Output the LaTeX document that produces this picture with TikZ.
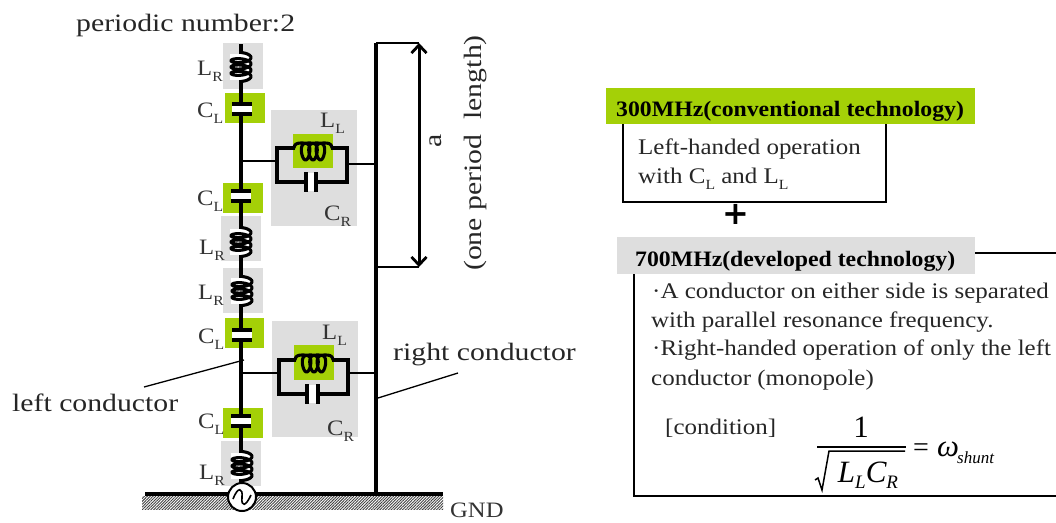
\documentclass[tikz,border=0pt]{standalone}
\usepackage{fontspec}
\setmainfont[FakeStretch=1.12]{Liberation Serif}
\newfontfamily\frmfont{Liberation Serif}
\newfontfamily\widefont[FakeStretch=1.19]{Liberation Serif}
\newfontfamily\headfont[FakeStretch=1.08]{Liberation Serif}
\newfontfamily\plusfont{DejaVu Sans}
\usetikzlibrary{patterns.meta,arrows.meta}
\definecolor{limeg}{HTML}{A4D007}
\definecolor{boxgray}{HTML}{DEDEDE}
\newcommand\sz[1]{\fontsize{#1}{#1}\selectfont}
\newcommand\lab[2]{#1\raisebox{-0.3em}{\sz{14}#2}}
\newcommand\vcoil[2]{\begin{scope}[shift={(#1,#2)}]\draw[coil] plot[domain=0:1260,samples=106,smooth] ({10*sin(\x)},{-11+\x/1260*22-3.5*cos(\x)});\end{scope}}
\newcommand\hcoil[2]{\begin{scope}[shift={(#1,#2)}]\draw[coil] plot[domain=0:1260,samples=106,smooth] ({-13+\x/1260*26-6*cos(\x)},{-8.5*sin(\x)+3.5*sin(\x)*sin(\x)});\end{scope}}
\newcommand\vcap[3]{\fill[white] (#1-10,#2) rectangle (#1+10,#3);\draw[plate] (#1-10,#2)--(#1+10,#2) (#1-10,#3)--(#1+10,#3);}
\newcommand\hcap[3]{\fill[white] (#1,#3-9) rectangle (#2,#3+9);\draw[plate] (#1,#3-10)--(#1,#3+10) (#2,#3-10)--(#2,#3+10);}
\tikzset{
 wire/.style={line width=3.4pt},
 stubwire/.style={line width=2.8pt},
 thinwire/.style={line width=3.3pt},
 coil/.style={line width=3.1pt},
 plate/.style={line width=3.8pt},
 leader/.style={line width=1.3pt},
 graybox/.style={fill=boxgray},
 greenbox/.style={fill=limeg},
 txt/.style={anchor=base west,inner sep=0pt,font=\sz{22.3},text=black!85},
 lbl/.style={anchor=base west,inner sep=0pt,font=\sz{22},text=black!80},
 biglbl/.style={anchor=base west,inner sep=0pt,font=\widefont\sz{25},text=black!85},
 head/.style={anchor=base west,inner sep=0pt,font=\headfont\sz{22}\bfseries,text=black},
 frameline/.style={line width=1.7pt},
 formula/.style={anchor=base,inner sep=0pt,text=black},
}
\begin{document}
\begin{tikzpicture}[x=1pt,y=-1pt]
\useasboundingbox (0,0) rectangle (1056,522);
% shaded panels
\fill[graybox] (223,43) rectangle (263,89);
\fill[greenbox] (225,93) rectangle (265,123);
\fill[graybox] (271,110) rectangle (357,226);
\fill[greenbox] (293,134) rectangle (333,168);
\fill[greenbox] (223,183) rectangle (263,213);
\fill[graybox] (221,216) rectangle (261,261);
\fill[graybox] (223,268) rectangle (263,313);
\fill[greenbox] (225,318) rectangle (264,348);
\fill[graybox] (272,321) rectangle (358,437);
\fill[greenbox] (294,345) rectangle (334,380);
\fill[greenbox] (223,408) rectangle (263,438);
\fill[graybox] (221,441) rectangle (261,486);
% ground
\fill[pattern={Lines[distance=2pt,angle=45,line width=0.9pt]},pattern color=black!75] (142,496) rectangle (443,509);
\coordinate (gl) at (145,494); \coordinate (gr) at (443,494);
\draw[line width=3.4pt] (gl)--(gr);
% conductors
\coordinate (lt) at (241,44); \coordinate (lb) at (241,484);
\coordinate (rt) at (376,43); \coordinate (rb) at (376,494);
\draw[wire] (lt)--(lb);
\draw[wire] (rt)--(rb);
% coils on left conductor
\foreach \xc/\yc in {241/67,241/242,242/291,242/466}{
 \fill[white] (\xc-11,\yc-13) rectangle (\xc+11,\yc+13);
 \vcoil{\xc}{\yc}
}
% series capacitors
\vcap{242}{104}{114}
\vcap{241}{191}{201}
\vcap{242}{330}{340}
\vcap{241}{416}{426}
% shunt networks
\coordinate (j1) at (241,161); \coordinate (a1) at (277,161); \coordinate (b1) at (347,164); \coordinate (r1) at (376,164);
\draw[stubwire] (j1)--(a1) (b1)--(r1);
\draw[thinwire] (295,148)-|(a1)|-(347,182)--(b1)|-(331,148);
\hcoil{313}{148}
\hcap{306}{316}{182}
\coordinate (j2) at (241,373); \coordinate (a2) at (279,373); \coordinate (b2) at (348,373); \coordinate (r2) at (376,373);
\draw[stubwire] (j2)--(a2) (b2)--(r2);
\draw[thinwire] (296,360)-|(a2)|-(348,394)--(b2)|-(332,360);
\hcoil{314}{360}
\hcap{307}{318}{394}
% source
\node[circle,draw=black,fill=white,line width=2pt,minimum size=28pt,inner sep=0pt] (src) at (242,497) {};
\draw[line width=1.6pt] (233,499) .. controls (238,486) and (243,488) .. (src.center) .. controls (241,508) and (246,506) .. (251,495);
% dimension
\coordinate (dt) at (419,43); \coordinate (db) at (419,267);
\draw[line width=1.6pt] (rt)--(dt) (376,267)--(db);
\draw[line width=3pt,{Straight Barb[length=8pt,width=15pt,line width=2.8pt]}-{Straight Barb[length=8pt,width=15pt,line width=2.8pt]}] (dt)--(db);
\node[biglbl,rotate=90,anchor=base] (aa) at (441,141) {a};
\node[biglbl,rotate=90,anchor=base] (per) at (481,153) {(one period\hspace{0.6em}length)};
% leaders
\coordinate (lc1) at (144,387); \coordinate (lc2) at (244,360);
\coordinate (rc1) at (378,398); \coordinate (rc2) at (458,373);
\draw[leader] (lc1)--(lc2);
\draw[leader] (rc1)--(rc2);
% left labels
\node[biglbl] (title) at (76,31) {periodic number:2};
\node[lbl] (lr1) at (197,75) {\lab{L}{R}};
\node[lbl] (cl1) at (197,117) {\lab{C}{L}};
\node[lbl] (ll1) at (320,127) {\lab{L}{L}};
\node[lbl] (cr1) at (324,220) {\lab{C}{R}};
\node[lbl] (cl2) at (197,205) {\lab{C}{L}};
\node[lbl] (lr2) at (199,254) {\lab{L}{R}};
\node[lbl] (lr3) at (198,299) {\lab{L}{R}};
\node[lbl] (cl3) at (198,343) {\lab{C}{L}};
\node[lbl] (ll2) at (322,339) {\lab{L}{L}};
\node[lbl] (cr2) at (327,435) {\lab{C}{R}};
\node[lbl] (cl4) at (198,428) {\lab{C}{L}};
\node[lbl] (lr4) at (199,479) {\lab{L}{R}};
\node[biglbl] (lcond) at (12,411) {left conductor};
\node[biglbl] (rcond) at (393,360) {right conductor};
\node[lbl,font=\sz{22}] (gnd) at (450,517) {GND};
% right panel
\fill[greenbox] (606,88) rectangle (975,124);
\fill[graybox] (617,237) rectangle (975,274);
\draw[frameline] (623,124)--(623,202)--(886,202)--(886,124);
\draw[frameline] (975,253)--(1056,253);
\draw[frameline] (634,274)--(634,496)--(1056,496);
\node[head] (h1) at (616,116) {300MHz(conventional technology)};
\node[head] (h2) at (635,266) {700MHz(developed technology)};
\node[anchor=center,inner sep=0pt,font=\plusfont\sz{32}\bfseries] (plus) at (736,214) {+};
\node[txt] (t1) at (638,154) {Left-handed operation};
\node[txt] (t2) at (638,183) {with \lab{C}{L} and \lab{L}{L}};
\node[txt] (t3) at (652,298) {·A conductor on either side is separated};
\node[txt] (t4) at (651,327) {with parallel resonance frequency.};
\node[txt] (t5) at (652,355) {·Right-handed operation of only the left};
\node[txt] (t6) at (651,385) {conductor (monopole)};
\node[txt] (t7) at (665,434) {[condition]};
% formula
\node[formula,font=\frmfont\sz{31}] (one) at (861,437) {1};
\draw[line width=1.5pt] (817,447)--(906,447);
\draw[line width=1.5pt] (815,480)--(818,478)--(822,490)--(829,451)--(905,451);
\node[formula,font=\frmfont\sz{31}\itshape] (lcr) at (868,482) {L\raisebox{-0.2em}{\sz{19}L}C\raisebox{-0.2em}{\sz{19}R}};
\node[formula,font=\frmfont\sz{28}] (eq) at (921,456) {=};
\node[formula,font=\frmfont\sz{31}\itshape] (om) at (948,456) {ω};
\node[formula,font=\frmfont\sz{17}\itshape,anchor=base west] (sh) at (957,463) {shunt};
\end{tikzpicture}
\end{document}
